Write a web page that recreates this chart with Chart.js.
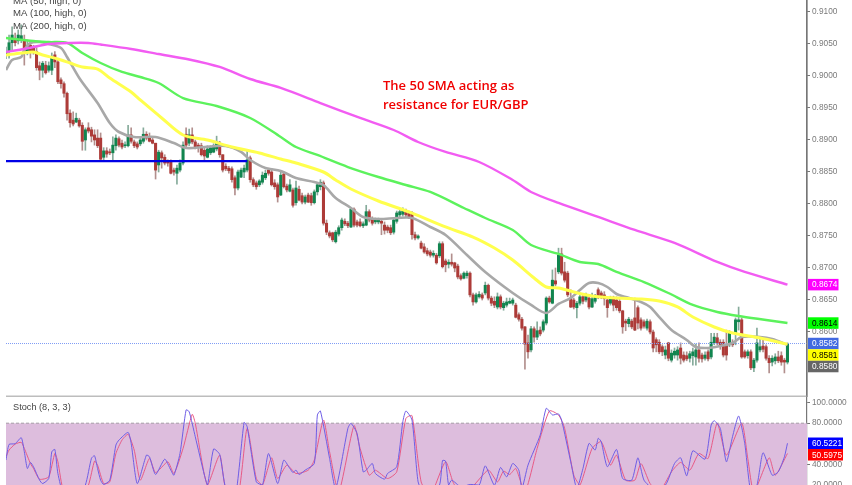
<!DOCTYPE html>
<html><head><meta charset="utf-8">
<script src="https://cdn.jsdelivr.net/npm/chart.js@4"></script>
<style>html,body{margin:0;padding:0;background:#fff;overflow:hidden}
canvas{position:absolute;left:0;filter:blur(.3px)}</style></head><body>
<canvas id="price" width="852" height="397" style="top:0;width:852px;height:397px"></canvas>
<canvas id="stoch" width="852" height="88" style="top:397px;width:852px;height:88px"></canvas>
<script>
const opens=[
.9033,.9038,.9052,.9059,.9055,.9056,.9056,.9038,.9048,.9044,
.9038,.9016,.9009,.9017,.9009,.9009,.9033,.9022,.8994,.8988,
.8973,.8942,.8931,.8928,.8931,.8923,.8900,.8919,.8916,.8908,
.8903,.8903,.8873,.8883,.8881,.8880,.8891,.8902,.8895,.8891,
.8891,.8908,.8897,.8894,.8894,.8898,.8909,.8905,.8900,.8895,
.8861,.8880,.8873,.8867,.8866,.8853,.8848,.8853,.8864,.8909,
.8895,.8908,.8897,.8892,.8891,.8884,.8873,.8880,.8881,.8886,
.8895,.8877,.8859,.8856,.8855,.8841,.8825,.8842,.8850,.8853,
.8872,.8838,.8833,.8830,.8834,.8841,.8853,.8850,.8833,.8830,
.8814,.8847,.8828,.8820,.8822,.8802,.8823,.8813,.8803,.8814,
.8813,.8802,.8819,.8827,.8833,.8770,.8755,.8755,.8741,.8753,
.8763,.8773,.8770,.8764,.8792,.8772,.8772,.8766,.8767,.8788,
.8777,.8772,.8772,.8773,.8767,.8764,.8763,.8756,.8773,.8783,
.8784,.8788,.8786,.8786,.8752,.8747,.8739,.8733,.8727,.8725,
.8720,.8720,.8719,.8738,.8711,.8706,.8709,.8708,.8703,.8688,
.8684,.8688,.8692,.8658,.8647,.8655,.8658,.8661,.8673,.8653,
.8648,.8639,.8655,.8638,.8642,.8645,.8645,.8642,.8627,.8620,
.8608,.8583,.8572,.8605,.8592,.8603,.8603,.8614,.8653,.8645,
.8680,.8694,.8722,.8694,.8692,.8653,.8650,.8638,.8645,.8655,
.8650,.8653,.8639,.8648,.8666,.8661,.8658,.8650,.8645,.8653,
.8650,.8648,.8633,.8617,.8613,.8617,.8622,.8638,.8619,.8616,
.8606,.8616,.8600,.8588,.8584,.8577,.8564,.8583,.8556,.8564,
.8564,.8575,.8564,.8563,.8559,.8563,.8561,.8572,.8564,.8559,
.8569,.8561,.8583,.8591,.8584,.8584,.8580,.8580,.8584,.8598,
.8616,.8619,.8569,.8563,.8569,.8544,.8556,.8572,.8578,.8577,
.8559,.8553,.8555,.8561,.8563,.8556,.8553];
const closes=[
.9038,.9052,.9064,.9052,.9064,.9063,.9036,.9048,.9038,.9038,
.9013,.9009,.9020,.9005,.9016,.9030,.9022,.8991,.8988,.8973,
.8941,.8927,.8925,.8934,.8922,.8898,.8916,.8914,.8906,.8900,
.8891,.8870,.8883,.8878,.8880,.8892,.8903,.8892,.8889,.8892,
.8908,.8898,.8891,.8889,.8900,.8909,.8903,.8898,.8895,.8853,
.8881,.8872,.8864,.8864,.8848,.8850,.8856,.8864,.8892,.8892,
.8908,.8897,.8889,.8888,.8877,.8875,.8886,.8888,.8891,.8897,
.8877,.8853,.8855,.8852,.8838,.8825,.8850,.8853,.8856,.8869,
.8838,.8830,.8827,.8836,.8845,.8848,.8848,.8830,.8827,.8811,
.8845,.8827,.8822,.8830,.8798,.8825,.8806,.8803,.8811,.8803,
.8802,.8819,.8830,.8834,.8770,.8756,.8750,.8744,.8756,.8763,
.8775,.8769,.8766,.8792,.8767,.8767,.8766,.8769,.8788,.8775,
.8770,.8775,.8775,.8770,.8759,.8759,.8755,.8775,.8786,.8788,
.8789,.8783,.8780,.8752,.8747,.8750,.8731,.8725,.8722,.8720,
.8723,.8708,.8738,.8702,.8705,.8709,.8706,.8700,.8686,.8683,
.8692,.8692,.8658,.8647,.8658,.8659,.8653,.8673,.8653,.8645,
.8642,.8655,.8639,.8645,.8647,.8648,.8650,.8623,.8620,.8606,
.8581,.8569,.8605,.8592,.8602,.8597,.8616,.8653,.8647,.8681,
.8675,.8720,.8692,.8681,.8658,.8639,.8639,.8645,.8655,.8648,
.8658,.8639,.8652,.8656,.8655,.8655,.8652,.8638,.8653,.8642,
.8638,.8633,.8608,.8614,.8620,.8608,.8603,.8614,.8606,.8609,
.8617,.8600,.8575,.8580,.8569,.8569,.8572,.8559,.8567,.8570,
.8572,.8559,.8556,.8558,.8566,.8569,.8572,.8559,.8558,.8564,
.8558,.8584,.8592,.8583,.8577,.8564,.8564,.8598,.8580,.8619,
.8619,.8561,.8561,.8569,.8544,.8556,.8583,.8577,.8573,.8559,
.8552,.8559,.8561,.8555,.8553,.8553,.8582];
const highs=[
.9045,.9064,.9077,.9067,.9072,.9080,.9064,.9056,.9055,.9048,
.9044,.9022,.9023,.9023,.9022,.9036,.9038,.9025,.8997,.8991,
.8975,.8947,.8944,.8942,.8934,.8927,.8919,.8927,.8920,.8916,
.8916,.8911,.8888,.8888,.8886,.8905,.8908,.8905,.8900,.8897,
.8923,.8919,.8900,.8897,.8903,.8919,.8913,.8911,.8905,.8895,
.8884,.8883,.8877,.8869,.8869,.8856,.8861,.8869,.8897,.8919,
.8917,.8919,.8900,.8895,.8895,.8889,.8891,.8891,.8894,.8906,
.8898,.8877,.8863,.8859,.8858,.8844,.8853,.8856,.8861,.8884,
.8875,.8841,.8836,.8838,.8850,.8853,.8856,.8855,.8838,.8833,
.8850,.8850,.8831,.8838,.8825,.8836,.8828,.8817,.8814,.8817,
.8817,.8822,.8833,.8838,.8836,.8775,.8758,.8756,.8759,.8766,
.8778,.8777,.8773,.8794,.8794,.8775,.8777,.8772,.8798,.8791,
.8780,.8778,.8778,.8777,.8772,.8767,.8767,.8778,.8789,.8791,
.8794,.8792,.8789,.8788,.8756,.8752,.8742,.8738,.8731,.8728,
.8727,.8723,.8741,.8741,.8714,.8713,.8722,.8709,.8706,.8691,
.8694,.8695,.8694,.8661,.8661,.8663,.8661,.8678,.8675,.8656,
.8655,.8661,.8658,.8648,.8653,.8653,.8653,.8645,.8630,.8623,
.8609,.8595,.8609,.8608,.8616,.8608,.8619,.8655,.8656,.8697,
.8700,.8731,.8731,.8709,.8695,.8666,.8653,.8648,.8658,.8658,
.8661,.8656,.8661,.8659,.8669,.8664,.8663,.8653,.8656,.8656,
.8655,.8652,.8634,.8620,.8623,.8620,.8653,.8641,.8622,.8619,
.8620,.8619,.8603,.8591,.8588,.8580,.8578,.8584,.8572,.8575,
.8577,.8583,.8569,.8569,.8570,.8575,.8581,.8583,.8567,.8569,
.8572,.8598,.8598,.8598,.8588,.8588,.8603,.8602,.8588,.8622,
.8639,.8622,.8572,.8572,.8572,.8559,.8606,.8592,.8591,.8580,
.8563,.8563,.8566,.8570,.8569,.8559,.8583];
const lows=[
.9027,.9028,.9041,.9047,.9050,.9052,.9017,.9033,.9028,.9034,
.9009,.8994,.8998,.9003,.9006,.9002,.9013,.8988,.8981,.8967,
.8931,.8920,.8922,.8927,.8920,.8884,.8884,.8911,.8897,.8892,
.8888,.8869,.8869,.8873,.8877,.8869,.8884,.8889,.8886,.8888,
.8889,.8895,.8888,.8886,.8891,.8895,.8900,.8897,.8894,.8839,
.8850,.8856,.8861,.8859,.8847,.8845,.8831,.8850,.8861,.8889,
.8891,.8894,.8886,.8881,.8875,.8869,.8872,.8877,.8880,.8883,
.8873,.8850,.8852,.8848,.8834,.8814,.8822,.8841,.8841,.8850,
.8834,.8827,.8823,.8827,.8831,.8838,.8845,.8828,.8823,.8803,
.8813,.8825,.8819,.8819,.8795,.8798,.8805,.8800,.8800,.8802,
.8798,.8800,.8814,.8822,.8767,.8752,.8747,.8741,.8739,.8750,
.8759,.8766,.8763,.8763,.8764,.8764,.8764,.8763,.8766,.8772,
.8767,.8769,.8769,.8752,.8753,.8755,.8752,.8753,.8770,.8780,
.8781,.8780,.8777,.8745,.8744,.8745,.8730,.8723,.8719,.8717,
.8717,.8706,.8716,.8700,.8694,.8700,.8703,.8694,.8683,.8681,
.8683,.8684,.8655,.8642,.8645,.8653,.8650,.8658,.8650,.8641,
.8638,.8636,.8636,.8634,.8639,.8644,.8642,.8622,.8617,.8603,
.8542,.8559,.8569,.8584,.8588,.8594,.8600,.8611,.8645,.8644,
.8672,.8691,.8689,.8678,.8655,.8638,.8636,.8622,.8642,.8644,
.8647,.8636,.8638,.8645,.8652,.8652,.8642,.8623,.8642,.8633,
.8634,.8630,.8598,.8602,.8608,.8605,.8602,.8605,.8603,.8606,
.8603,.8597,.8569,.8569,.8566,.8563,.8558,.8555,.8553,.8559,
.8556,.8550,.8553,.8555,.8553,.8548,.8548,.8553,.8553,.8556,
.8555,.8558,.8580,.8580,.8573,.8561,.8556,.8577,.8577,.8580,
.8603,.8559,.8559,.8559,.8541,.8538,.8553,.8569,.8569,.8556,
.8536,.8547,.8550,.8552,.8548,.8536,.8550];

const ma200X=[0,4,9,14,21,27,31,41,50,60,70,80,90,103,116,127,135,144,155,166,172,181,194,206,219,233,242,256];
const ma200=[.90375,.90406,.90453,.905,.90516,.90516,.90492,.90422,.90344,.90258,.90141,.89953,.89813,.89578,.89344,.89156,.88969,.88813,.88656,.88375,.88188,.88016,.87797,.87594,.87391,.87094,.86938,.8674];
const ma100X=[0,9,14,20,25,31,38,44,50,58,69,80,90,95,102,112,122,131,139,150,157,166,172,181,188,194,200,209,217,225,233,240,249,256];
const ma100=[.90594,.90547,.90531,.90516,.90359,.90203,.90063,.89984,.89891,.89656,.89531,.89344,.89047,.88891,.88766,.88578,.88422,.88297,.88188,.87938,.87781,.87594,.87359,.87219,.87094,.87063,.86938,.86781,.86609,.86422,.86313,.8625,.86188,.8614];
const ma50X=[0,5,9,12,17,21,25,30,34,41,44,51,58,66,74,83,90,95,104,108,113,122,133,144,153,160,166,173,177,181,186,192,200,208,214,220,225,232,238,247,256];
const ma50=[.90328,.90359,.90375,.90328,.90266,.90203,.90141,.90109,.89969,.8975,.89625,.89344,.89078,.89,.88891,.88797,.88703,.88641,.885,.88375,.88234,.88047,.87859,.87641,.87484,.87313,.87125,.86844,.86703,.86688,.86625,.86563,.86531,.86516,.86484,.86391,.86234,.86078,.85984,.85906,.8581];
const maFastX=[0,2,5,6,8,11,14,18,20,24,30,34,37,42,49,55,59,65,72,77,80,85,90,95,101,104,108,113,117,122,128,133,139,144,151,157,166,172,177,181,185,188,191,194,197,200,203,208,211,214,218,223,226,230,234,238,241,247,251,256];
const maFast=[.90094,.9025,.90297,.90406,.90516,.90531,.905,.90438,.90297,.89969,.89578,.89266,.89125,.89047,.89047,.88953,.88875,.88891,.88906,.88813,.88688,.88563,.88516,.88406,.88344,.88297,.88094,.87938,.87797,.87766,.87781,.87781,.87641,.87516,.87203,.86938,.86609,.86422,.86297,.86438,.86531,.86656,.86766,.86766,.86703,.86594,.86547,.86469,.86391,.86234,.86031,.85875,.85766,.8575,.85781,.85828,.85922,.85922,.85891,.8580];

const kX=[0,1,3,5,6,7,8,9,11,12,14,15,16,17,19,23,26,28,29,30,31,32,34,36,37,40,41,43,46,47,49,52,54,55,57,59,60,62,65,66,68,70,72,75,78,79,82,84,86,89,91,93,94,95,96,98,101,102,103,106,108,112,113,115,117,118,120,121,124,125,128,130,131,133,135,137,138,142,143,144,145,146,149,152,155,157,160,162,164,166,168,169,171,175,177,179,181,182,185,187,189,191,193,194,195,197,200,202,205,207,209,212,216,219,221,223,225,229,231,232,234,236,238,240,242,244,246,248,251,253,255,256];
const kVals=[44.2,59.4,60.1,65.9,52.3,36,41.9,37.7,24.7,21.4,26.3,52.3,54.5,31.2,10,7,20,46,48.4,36,24.7,20.5,24.7,58.8,63.6,71.1,60.4,21.4,49,47.4,30.2,45.1,34.4,29.5,50.6,92.9,91.2,66.9,29.5,19.8,54.9,49.7,16.6,6.8,80.8,76.6,23,19.8,50.6,21.4,44.2,36,32.1,34.4,30.2,34.4,40.9,88,91.9,45.8,16.6,75,79.9,70.1,32.8,34.4,40.9,31.2,25.6,31.2,37.7,81.5,91.9,83.1,23,10,6.8,19.8,43.8,43.2,19.8,24.7,18.2,20.5,19.8,38.6,19.8,37,27.9,40.9,34.4,16.6,39.3,68.5,94.5,88,89,83.1,42.5,16.6,36,60.4,53.9,65.3,62,37.7,54.5,26.3,24.7,46.4,24.7,16.6,19.8,40.9,46.4,28.9,53.2,45.1,78.2,82.5,75,42.5,66.9,87,60.4,13.3,19.8,51.3,29.5,32.8,47.4,60.5221];
const dX=[0,1,3,5,6,8,9,11,14,16,17,19,24,27,29,30,32,34,36,38,40,42,44,47,49,53,55,58,61,62,66,70,72,76,79,82,84,87,89,92,95,99,101,104,106,109,114,116,119,121,125,128,131,133,136,139,144,147,152,158,161,163,165,167,170,174,178,181,183,186,188,192,195,198,200,203,206,208,211,214,218,221,224,227,230,233,236,241,243,245,250,252,256];
const dVals=[47.4,53.9,59.7,61.4,55.5,40.9,36,25.6,27.9,50.6,42.5,13.3,5.2,19.8,43.2,39.3,21.4,23,50.6,63.6,69.2,53.9,24.7,45.8,32.1,42.5,31.2,55.5,88.6,79.9,19.8,49,16.6,10,75,26.3,19.8,46.4,26.3,39.3,31.2,34.4,44.2,83.1,52.3,13.3,77.6,55.5,29.5,34.4,26.3,32.8,84.7,87.3,23,10,42.5,19.8,16.6,34.4,23,33.4,30.2,36,13.3,55.5,91.9,88,75,29.5,19.8,55.5,62,39.3,49,24.7,24.7,40.9,21.4,13.3,32.8,41.9,34.4,50.6,45.8,79.9,49,79.9,45.8,13.3,46.4,29.5,50.5975];

const supportX=[0,79];
const support=[.8867,.8867];
const lastPrice=.8582;
const overbought=80;
const priceTicks=[.91,.905,.9,.895,.89,.885,.88,.875,.87,.865,.86];
const stochTicks=[100,80,40,20];
const xEnd=262.4;
const legendLines=['MA (50, high, 0)','MA (100, high, 0)','MA (200, high, 0)'];
const noteLines=['The 50 SMA acting as','resistance for EUR/GBP'];
const priceTags=[[.8674,'0.8674','#ff00ff','#fff'],[.8614,'0.8614','#00ff00','#000'],[.8582,'0.8582','#4169e1','#fff'],[.8581,'0.8581','#ffff00','#000'],[.8580,'0.8580','#666','#fff']];
const stochTags=[[60.5221,'60.5221','#0000ff','#fff'],[50.5975,'50.5975','#ff0000','#fff']];

Chart.defaults.animation=false;
const zip=(xs,ys)=>xs.map((x,i)=>({x,y:ys[i]}));
const isUp=i=>closes[i]>=opens[i];
const RED='#ad3b38',GRN='#11854f',REDW='#b28f8d',GRNW='#86ab9b',AX='#777';
const FONT='"Liberation Sans",Arial,sans-serif';

function drawTags(ctx,scale,tags,w){
  let prev=-99;const h=11.5;
  ctx.font='8.3px '+FONT;ctx.textBaseline='middle';ctx.textAlign='left';
  tags.forEach(([v,txt,bg,fg])=>{
    let y=scale.getPixelForValue(v);
    if(y<prev+h)y=prev+h;
    prev=y;
    ctx.fillStyle=bg;ctx.fillRect(808,y-h/2,w,h);
    ctx.fillStyle=fg;ctx.fillText(txt,812,y+.5);
  });
}
const priceOverlay={id:'priceOverlay',afterDraw(c){
  const x=c.ctx,a=c.chartArea;x.save();
  x.strokeStyle='#bdbdbd';x.lineWidth=1.6;x.beginPath();x.moveTo(a.left,a.bottom+.3);x.lineTo(a.right,a.bottom+.3);x.stroke();
  x.strokeStyle=AX;x.lineWidth=1.2;x.beginPath();x.moveTo(a.right,0);x.lineTo(a.right,397);x.stroke();
  drawTags(x,c.scales.y,priceTags,30.5);
  x.fillStyle='#444';x.font='9.6px '+FONT;x.textAlign='left';x.textBaseline='middle';
  legendLines.forEach((t,i)=>x.fillText(t,13,1.5+12.3*i));
  x.fillStyle='#f00000';x.font='600 13px "Open Sans",sans-serif';
  noteLines.forEach((t,i)=>x.fillText(t,383,86+19.5*i));
  x.restore();
}};
const stochOverlay={id:'stochOverlay',afterDraw(c){
  const x=c.ctx;x.save();
  drawTags(x,c.scales.y,stochTags,35);
  x.fillStyle='#444';x.font='9.2px '+FONT;x.textAlign='left';x.textBaseline='middle';
  x.fillText('Stoch (8, 3, 3)',13,10);
  x.restore();
}};
const yAxis=(min,max,ticks,fmt)=>({position:'right',min,max,
  afterBuildTicks(s){s.ticks=ticks.map(value=>({value}));},
  afterFit(s){s.width=45;s.paddingTop=0;s.paddingBottom=0;},
  border:{color:AX,width:1.2},
  grid:{drawOnChartArea:false,drawTicks:true,tickLength:3,color:AX},
  ticks:{color:'#7a7a7a',font:{family:FONT,size:8.3},padding:2,maxRotation:0,autoSkip:false,callback:fmt}});
const xAxis={type:'linear',min:0,max:xEnd,display:false,offset:false};
const line=(data,color,w,order,extra)=>Object.assign({type:'line',data,borderColor:color,borderWidth:w,pointRadius:0,tension:.3,order,fill:false},extra||{});

new Chart(document.getElementById('price'),{type:'bar',
  data:{datasets:[
    {type:'bar',data:closes.map((_,i)=>({x:i,y:[lows[i],highs[i]]})),backgroundColor:closes.map((_,i)=>isUp(i)?GRNW:REDW),barThickness:1,grouped:false,order:9},
    {type:'bar',data:closes.map((_,i)=>({x:i,y:[opens[i],closes[i]]})),backgroundColor:closes.map((_,i)=>isUp(i)?GRN:RED),barThickness:2.4,grouped:false,minBarLength:1,order:8},
    line([{x:0,y:lastPrice},{x:xEnd,y:lastPrice}],'#7f9cf5',1,7,{borderDash:[1,1],tension:0}),
    line(zip(maFastX,maFast),'#a8a8a8',2.6,5),
    line(zip(ma50X,ma50),'#ffff4d',3,4),
    line(zip(ma100X,ma100),'#5cf25c',2.4,3),
    line(zip(ma200X,ma200),'#f25cf2',2.4,2),
    line(zip(supportX,support),'#0000e6',2.4,1,{tension:0})
  ]},
  options:{responsive:false,animation:false,layout:{padding:{left:6,right:0,top:0,bottom:1}},
    plugins:{legend:{display:false},tooltip:{enabled:false}},
    scales:{x:xAxis,y:yAxis(.85,.911875,priceTicks,v=>v.toFixed(4))}},
  plugins:[priceOverlay]});

new Chart(document.getElementById('stoch'),{type:'line',
  data:{datasets:[
    line([{x:0,y:overbought},{x:xEnd,y:overbought}],'#a59aa5',1,3,{borderDash:[3,2],tension:0,fill:'start',backgroundColor:'#ddbddd'}),
    line(zip(dX,dVals),'#e85a86',1,2,{tension:.2}),
    line(zip(kX,kVals),'#6f5ee6',1,1,{tension:.2})
  ]},
  options:{responsive:false,animation:false,layout:{padding:{left:6,right:0,top:0,bottom:0}},
    plugins:{legend:{display:false},tooltip:{enabled:false}},
    scales:{x:xAxis,y:yAxis(20,105.44,stochTicks,v=>v.toFixed(4))}},
  plugins:[stochOverlay]});
</script></body></html>
